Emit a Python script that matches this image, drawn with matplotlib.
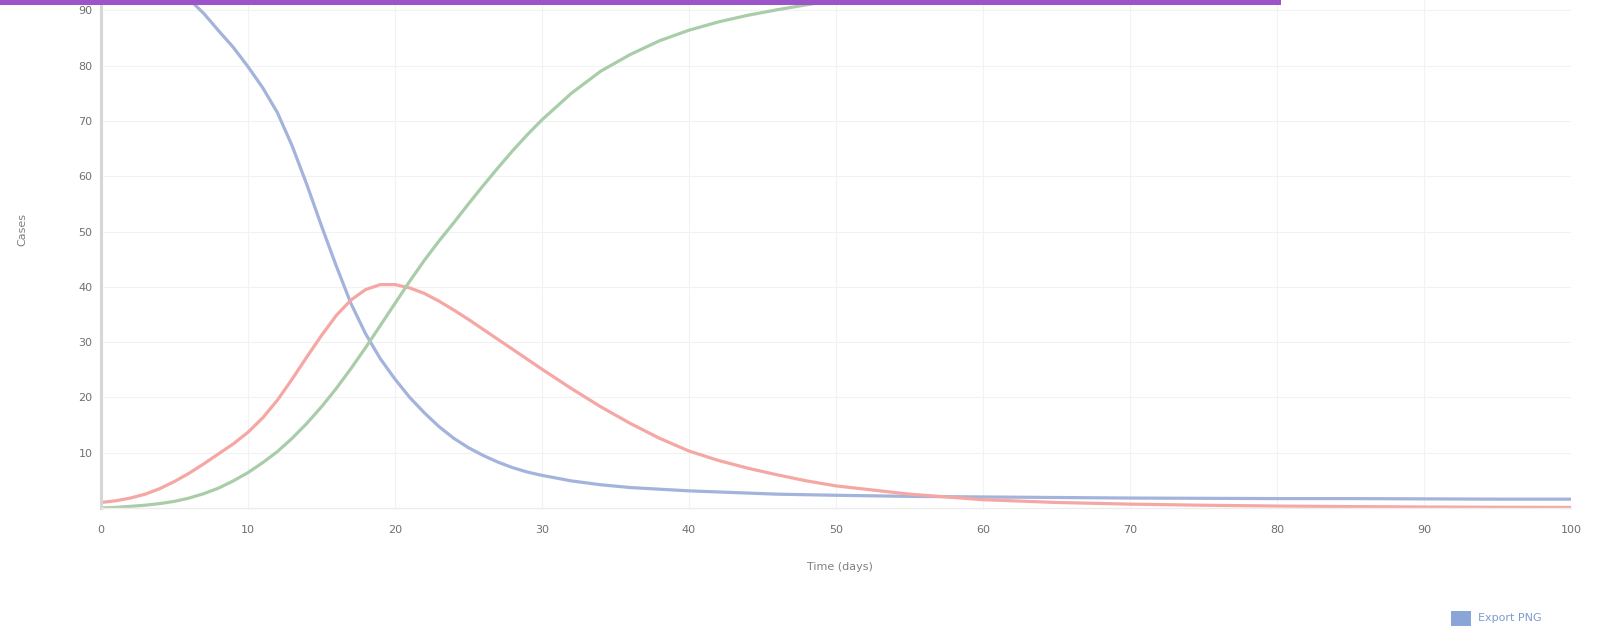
#!/usr/bin/env python3
# -*- coding: utf-8 -*-
'''SIR style curves: susceptible / infected / recovered over 100 days'''

#%% 'Imports'
import matplotlib
matplotlib.use('Agg')
import matplotlib.pyplot as plt
from matplotlib.patches import Rectangle

#%% data (days, cases)
days = list(range(0, 31)) + list(range(32, 51, 2)) + list(range(55, 101, 5))

susceptible = [99, 98.7, 98.2, 97.3, 96, 94.3, 92, 89.4, 86.3, 83.3,           # 0-9
               79.8, 76, 71.5, 65.5, 58.5, 51, 43.8, 37, 31.5, 27,               # 10-19
               23.3, 20, 17.2, 14.7, 12.6, 10.9, 9.5, 8.3, 7.3, 6.5, 5.9,        # 20-30
               4.9, 4.2, 3.7, 3.4, 3.1, 2.9, 2.7, 2.5, 2.4, 2.3,                 # 32-50
               2.1, 2.0, 1.9, 1.8, 1.75, 1.7, 1.7, 1.65, 1.6, 1.6]               # 55-100

infected = [1, 1.3, 1.8, 2.5, 3.5, 4.8, 6.3, 8, 9.8, 11.6,
            13.7, 16.3, 19.5, 23.3, 27.3, 31.2, 34.8, 37.6, 39.5, 40.4,
            40.4, 39.8, 38.8, 37.4, 35.8, 34.1, 32.3, 30.5, 28.7, 26.9, 25.1,
            21.6, 18.3, 15.3, 12.6, 10.3, 8.6, 7.2, 6.0, 4.9, 4.0,
            2.5, 1.5, 1.0, 0.7, 0.5, 0.35, 0.25, 0.18, 0.13, 0.1]

recovered = [0, 0.1, 0.3, 0.5, 0.8, 1.2, 1.8, 2.6, 3.6, 4.9,
             6.4, 8.2, 10.2, 12.6, 15.3, 18.3, 21.6, 25.2, 29, 33,
             37, 41, 44.8, 48.3, 51.6, 55, 58.3, 61.5, 64.6, 67.5, 70.2,
             75, 79, 82, 84.5, 86.4, 87.9, 89.1, 90.1, 91, 91.8,
             94, 95.6, 96.6, 97.2, 97.6, 97.9, 98.1, 98.2, 98.3, 98.3]

x_ticks = list(range(0, 101, 10))
y_ticks = list(range(10, 91, 10))
x_label = 'Time (days)'
y_label = 'Cases'

#%% figure
W, H = 1603, 631
fig = plt.figure(figsize=(W / 100, H / 100), dpi=100)
fig.patch.set_facecolor('white')

# y=0 sits at pixel row 508, 100 units span ~553 px (top runs off the figure)
ax = fig.add_axes([101 / W, (H - 508) / H, 1470 / W, 553 / H])
ax.set_xlim(0, 100)
ax.set_ylim(0, 100)

ax.plot(days, susceptible, color='#a3b3dc', lw=2.3, solid_joinstyle='round')
ax.plot(days, infected, color='#f5a7a4', lw=2.3, solid_joinstyle='round')
ax.plot(days, recovered, color='#a9cda9', lw=2.3, solid_joinstyle='round')

ax.set_xticks(x_ticks)
ax.set_yticks(y_ticks)
ax.tick_params(length=0, labelsize=8, labelcolor='#707070', pad=12)
ax.tick_params(axis='y', pad=6)
ax.grid(True, color='#f2f2f2', lw=0.8)
ax.set_axisbelow(True)

for s in ['top', 'right']:
    ax.spines[s].set_visible(False)
ax.spines['left'].set_color('#d6d6d6')
ax.spines['left'].set_linewidth(2.2)
ax.spines['bottom'].set_color('#ececec')
ax.spines['bottom'].set_linewidth(1.0)

fig.text(840 / W, 1 - 567 / H, x_label, ha='center', va='center', fontsize=8, color='#808080')
fig.text(22 / W, 1 - 229 / H, y_label, ha='center', va='center', rotation=90,
         fontsize=8, color='#808080')

# purple header strip
fig.patches.append(Rectangle((0, 1 - 5 / H), 1281 / W, 5 / H, transform=fig.transFigure,
                             facecolor='#9b55c8', edgecolor='none'))

# export button, bottom right
fig.patches.append(Rectangle((1451 / W, 1 - 626 / H), 20 / W, 15 / H, transform=fig.transFigure,
                             facecolor='#8aa6d8', edgecolor='none'))
fig.text(1478 / W, 1 - 618 / H, 'Export PNG', ha='left', va='center', fontsize=8,
         color='#7f9bd0')

fig.savefig('out.png', dpi=100, facecolor='white')
